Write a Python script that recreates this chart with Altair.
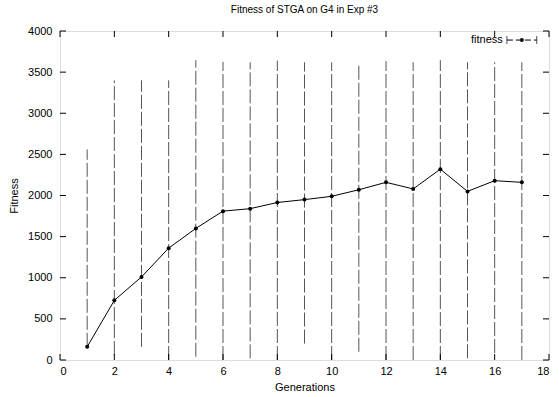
import altair as alt
import pandas as pd

generations = list(range(1, 18))
fitness = [160, 725, 1010, 1360, 1600, 1810, 1840, 1915, 1950, 1990, 2070, 2160, 2080, 2320, 2050, 2180, 2160]
upper = [2560, 3400, 3400, 3400, 3645, 3625, 3620, 3640, 3620, 3620, 3610, 3635, 3620, 3645, 3620, 3620, 3620]
lower = [160, 60, 160, 0, 40, 0, 20, 0, 200, 0, 100, 0, 0, 0, 20, 85, 0]

x_ticks = list(range(0, 19, 2))
y_ticks = list(range(0, 4001, 500))

df = pd.DataFrame({"gen": generations, "fit": fitness, "hi": upper, "lo": lower})

FONT = "Liberation Sans"

xs = alt.Scale(domain=[0, 18], nice=False, zero=False)
ys = alt.Scale(domain=[0, 4000], nice=False)

x_axis = alt.Axis(values=x_ticks, title="Generations", grid=False, domain=False,
                  ticks=False, labelPadding=5, format="d",
                  labelFont=FONT, labelFontSize=11, labelColor="black",
                  titleFont=FONT, titleFontSize=11, titleFontWeight="normal",
                  titleColor="black", titlePadding=5)
y_axis = alt.Axis(values=y_ticks, title="Fitness", grid=False, domain=False,
                  ticks=False, labelPadding=8, format="d",
                  labelFont=FONT, labelFontSize=11, labelColor="black",
                  titleFont=FONT, titleFontSize=11, titleFontWeight="normal",
                  titleColor="black", titlePadding=8)

base = alt.Chart(df)

bars = base.mark_rule(color="#555555", strokeWidth=1, strokeDash=[14, 3]).encode(
    x=alt.X("gen:Q", scale=xs, axis=x_axis),
    y=alt.Y("lo:Q", scale=ys, axis=y_axis),
    y2="hi:Q",
)
line = base.mark_line(color="black", strokeWidth=1).encode(
    x=alt.X("gen:Q", scale=xs), y=alt.Y("fit:Q", scale=ys)
)
pts = base.mark_point(color="black", filled=True, size=16, opacity=1).encode(
    x=alt.X("gen:Q", scale=xs), y=alt.Y("fit:Q", scale=ys)
)

# inward (gnuplot style) ticks on all four sides, from the tick lists
yt = pd.DataFrame({"v": y_ticks})
xt = pd.DataFrame({"v": x_ticks})
tick_l = alt.Chart(yt).mark_rule(color="black").encode(
    y=alt.Y("v:Q", scale=ys), x=alt.value(0), x2=alt.value(6))
tick_r = alt.Chart(yt).mark_rule(color="black").encode(
    y=alt.Y("v:Q", scale=ys), x=alt.value(483), x2=alt.value(489))
tick_b = alt.Chart(xt).mark_rule(color="black").encode(
    x=alt.X("v:Q", scale=xs), y=alt.value(329), y2=alt.value(323))
tick_t = alt.Chart(xt).mark_rule(color="black").encode(
    x=alt.X("v:Q", scale=xs), y=alt.value(0), y2=alt.value(6))

# legend (gnuplot style: label left, sample right)
leg_label = ["fitness"]
leg_text = alt.Chart(pd.DataFrame({"x": [16.3], "y": [3890], "t": leg_label})).mark_text(
    align="right", baseline="middle", font=FONT, fontSize=11, color="black"
).encode(x=alt.X("x:Q", scale=xs), y=alt.Y("y:Q", scale=ys), text="t:N")
leg_line = alt.Chart(pd.DataFrame({"x": [16.45], "x2": [17.55], "y": [3890]})).mark_rule(
    color="black", strokeWidth=1, strokeDash=[6, 3]
).encode(x=alt.X("x:Q", scale=xs), x2="x2:Q", y=alt.Y("y:Q", scale=ys))
leg_ends = alt.Chart(pd.DataFrame({"x": [16.45, 17.55], "y": [3890, 3890]})).mark_tick(
    color="black", orient="vertical", size=8, thickness=1
).encode(x=alt.X("x:Q", scale=xs), y=alt.Y("y:Q", scale=ys))
leg_pt = alt.Chart(pd.DataFrame({"x": [17.0], "y": [3890]})).mark_point(
    color="black", filled=True, size=16, opacity=1
).encode(x=alt.X("x:Q", scale=xs), y=alt.Y("y:Q", scale=ys))

chart = alt.layer(bars, line, pts, tick_l, tick_r, tick_b, tick_t,
                  leg_text, leg_line, leg_ends, leg_pt).properties(
    width=489, height=329,
    title=alt.TitleParams("Fitness of STGA on G4 in Exp #3", font=FONT, fontSize=10,
                          fontWeight="normal", color="black", offset=10, anchor="middle"),
    autosize=alt.AutoSizeParams(type="none"),
    padding={"left": 60, "top": 31, "right": 10, "bottom": 37},
).configure_view(stroke="black", strokeWidth=1.2).configure(background="white")

chart.save("out.html", embed_options={"renderer": "svg", "actions": False})
